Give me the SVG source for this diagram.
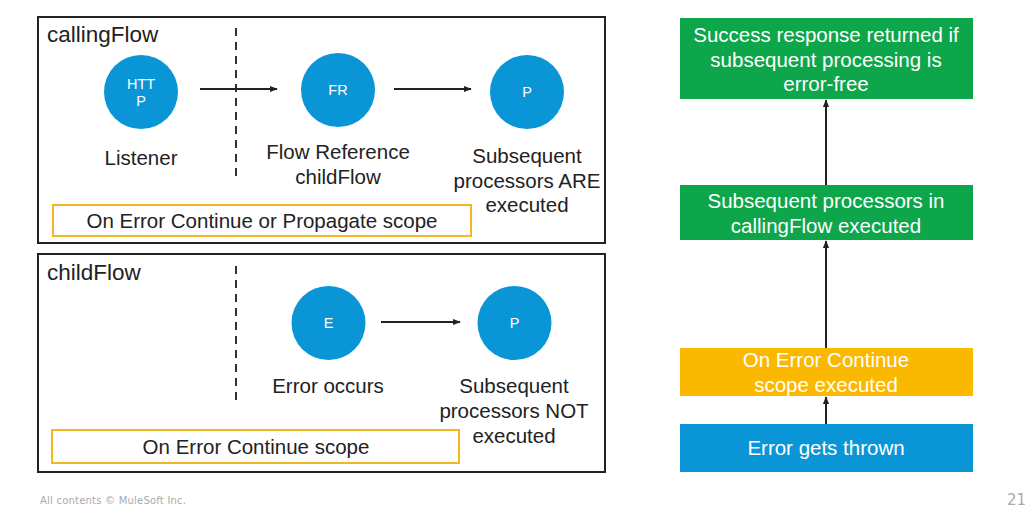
<svg xmlns="http://www.w3.org/2000/svg" width="1034" height="517" viewBox="0 0 1034 517">
<style>
text{font-family:"Liberation Sans",Arial,sans-serif;}
.frame{fill:#fff;stroke:#222;stroke-width:2;}
.scope{fill:#fff;stroke:#F2B822;stroke-width:2;}
.dash{stroke:#333;stroke-width:2;stroke-dasharray:8,6;}
.circ{fill:#0A96D6;}
.ct{fill:#fff;font-size:14.5px;text-anchor:middle;}
.lbl{fill:#222;font-size:20.5px;text-anchor:middle;}
.title{fill:#222;font-size:22.5px;}
.conn{stroke:#222;stroke-width:2;fill:none;marker-end:url(#ah);}
.bt{fill:#fff;font-size:20.5px;text-anchor:middle;}
.green{fill:#0DA64A;}
.yellow{fill:#FBB800;}
.blue{fill:#0A96D6;}
.foot{fill:#aaa;font-family:"DejaVu Sans",Verdana,sans-serif;}
</style>
<defs>
<marker id="ah" viewBox="0 0 10 10" refX="9" refY="5" markerWidth="4" markerHeight="4" orient="auto">
<path d="M0,1 L10,5 L0,9 z" fill="#222"/>
</marker>
</defs>
<rect width="1034" height="517" fill="#fff"/>

<g id="callingFlow">
<rect class="frame" x="38" y="17" width="567" height="226"/>
<text class="title" x="47" y="42">callingFlow</text>
<line class="dash" x1="236" y1="28" x2="236" y2="180"/>
</g>
<g id="scope1">
<rect class="scope" x="53" y="205" width="418" height="31"/>
<text class="lbl" x="262" y="228">On Error Continue or Propagate scope</text>
</g>
<g id="http">
<circle class="circ" cx="141" cy="92" r="37"/>
<text class="ct" x="141" y="89">HTT</text>
<text class="ct" x="141" y="106">P</text>
<text class="lbl" x="141" y="165">Listener</text>
</g>
<g id="fr">
<circle class="circ" cx="338" cy="90" r="37"/>
<text class="ct" x="338" y="95">FR</text>
<text class="lbl" x="338" y="159">Flow Reference</text>
<text class="lbl" x="338" y="184">childFlow</text>
</g>
<g id="p1">
<circle class="circ" cx="527" cy="92" r="37"/>
<text class="ct" x="527" y="97">P</text>
<text class="lbl" x="527" y="163">Subsequent</text>
<text class="lbl" x="527" y="188">processors ARE</text>
<text class="lbl" x="527" y="212">executed</text>
</g>

<g id="childFlow">
<rect class="frame" x="38" y="254" width="567" height="218"/>
<text class="title" x="47" y="280">childFlow</text>
<line class="dash" x1="236" y1="266" x2="236" y2="404"/>
</g>
<g id="scope2">
<rect class="scope" x="52" y="430" width="407" height="33"/>
<text class="lbl" x="256" y="454">On Error Continue scope</text>
</g>
<g id="e">
<circle class="circ" cx="328.5" cy="323" r="37"/>
<text class="ct" x="328.5" y="328">E</text>
<text class="lbl" x="328" y="393">Error occurs</text>
</g>
<g id="p2">
<circle class="circ" cx="514.5" cy="323" r="37"/>
<text class="ct" x="514.5" y="328">P</text>
<text class="lbl" x="514" y="393">Subsequent</text>
<text class="lbl" x="514" y="418">processors NOT</text>
<text class="lbl" x="514" y="443">executed</text>
</g>

<g id="success">
<rect class="green" x="680" y="18" width="293" height="81"/>
<text class="bt" x="826" y="42">Success response returned if</text>
<text class="bt" x="826" y="67">subsequent processing is</text>
<text class="bt" x="826" y="91">error-free</text>
</g>
<g id="subsequent">
<rect class="green" x="680" y="185" width="293" height="55"/>
<text class="bt" x="826" y="208">Subsequent processors in</text>
<text class="bt" x="826" y="233">callingFlow executed</text>
</g>
<g id="continue">
<rect class="yellow" x="680" y="348" width="293" height="48"/>
<text class="bt" x="826" y="367">On Error Continue</text>
<text class="bt" x="826" y="392">scope executed</text>
</g>
<g id="thrown">
<rect class="blue" x="680" y="424" width="293" height="48"/>
<text class="bt" x="826" y="455">Error gets thrown</text>
</g>

<g id="connectors">
<line class="conn" x1="200" y1="89" x2="277" y2="89"/>
<line class="conn" x1="394" y1="89" x2="471" y2="89"/>
<line class="conn" x1="381" y1="322" x2="460" y2="322"/>
<line class="conn" x1="826" y1="185" x2="826" y2="100"/>
<line class="conn" x1="826" y1="348" x2="826" y2="241"/>
<line class="conn" x1="826" y1="424" x2="826" y2="397"/>
</g>

<text class="foot" x="40" y="504" font-size="10" textLength="146">All contents © MuleSoft Inc.</text>
<text class="foot" x="1026" y="505" font-size="15" text-anchor="end">21</text>
</svg>
